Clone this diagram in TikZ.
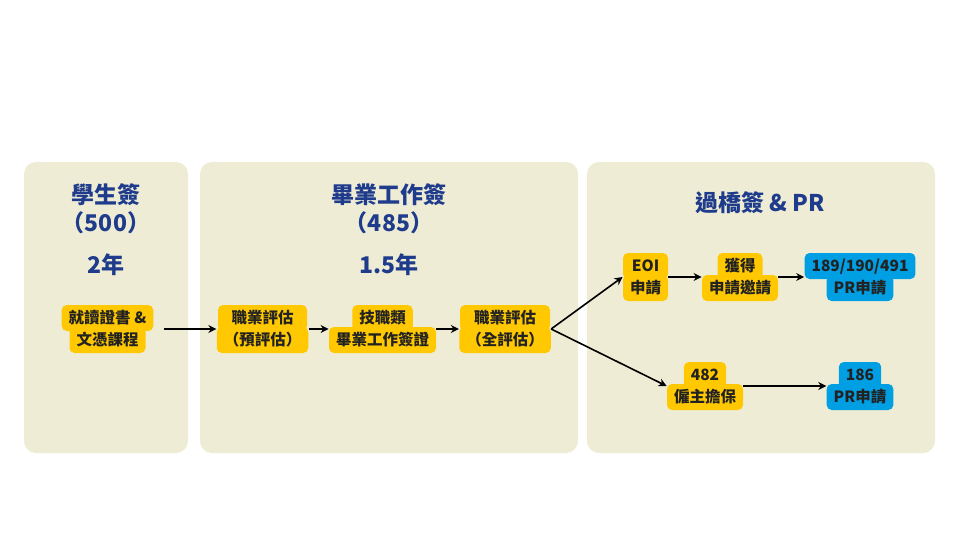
\documentclass[tikz,border=0pt]{standalone}
\usepackage{fontspec}
\setmainfont{Noto Sans CJK TC}
\usetikzlibrary{fit,arrows.meta}
\definecolor{panelbg}{HTML}{EFECD5}
\definecolor{titleblue}{HTML}{1F3C8C}
\definecolor{tagyellow}{HTML}{FFC800}
\definecolor{tagblue}{HTML}{009FE3}
\definecolor{tagtext}{HTML}{222222}
\tikzset{
  panel/.style={fill=panelbg, draw=none, rounded corners=12pt},
  titletext/.style={text=titleblue, font=\fontsize{23pt}{27pt}\selectfont\bfseries, inner sep=0pt},
  lab/.style={draw=none, rounded corners=5pt, text=tagtext,
    font=\fontsize{15.5pt}{18pt}\selectfont\bfseries,
    inner xsep=7pt, inner ysep=0pt, minimum height=26pt, text height=13pt, text depth=2pt},
  arr/.style={draw=black, line width=1.6pt, -{Stealth[length=8pt,width=8pt]}},
}
\newcommand\twoline[7]{%
  \node[lab, fill=#6, #7] (#1a) at (#2,#3-11) {#4};
  \node[lab, fill=#6, #7] (#1b) at (#2,#3+11) {#5};
  \node[fit=(#1a)(#1b), inner sep=0pt, draw=none] (#1) {};
}
\begin{document}
\begin{tikzpicture}[x=1pt,y=-1pt]
\useasboundingbox (0,0) rectangle (960,540);
\fill[white] (0,0) rectangle (960,540);
% panels
\node[panel, minimum width=164pt, minimum height=291pt] (p1) at (106,307.5) {};
\node[panel, minimum width=378pt, minimum height=291pt] (p2) at (389,307.5) {};
\node[panel, minimum width=348pt, minimum height=291pt] (p3) at (761,307.5) {};
% titles
\node[titletext] (t1a) at (106,195) {學生簽};
\node[titletext] (t1b) at (106,223) {（500）};
\node[titletext] (t1c) at (106,265) {2年};
\node[titletext] (t2a) at (389,195) {畢業工作簽};
\node[titletext] (t2b) at (389,223) {（485）};
\node[titletext] (t2c) at (389,265) {1.5年};
\node[titletext] (t3a) at (760,203) {過橋簽 \& PR};
% tags
\twoline{sa}{107.5}{329}{就讀證書 \&}{文憑課程}{tagyellow}{}
\twoline{pre}{262.5}{329}{職業評估}{（預評估）}{tagyellow}{minimum width=89pt}
\twoline{tech}{382.5}{329}{技職類}{畢業工作簽證}{tagyellow}{}
\twoline{full}{505}{329}{職業評估}{（全評估）}{tagyellow}{minimum width=90pt}
\twoline{eoi}{645.5}{277}{EOI}{申請}{tagyellow}{minimum width=45pt}
\twoline{inv}{740}{277}{獲得}{申請邀請}{tagyellow}{}
\twoline{pra}{860}{277}{189/190/491}{PR申請}{tagblue}{}
\twoline{emp}{705}{386}{482}{僱主擔保}{tagyellow}{}
\twoline{prb}{860}{386}{186}{PR申請}{tagblue}{}
% arrows
\draw[arr, shorten <=10pt] (sa) -- (pre);
\draw[arr] (pre) -- (tech);
\draw[arr] (tech) -- (full);
\draw[arr] (full.east) -- (eoi.west);
\draw[arr] (full.east) -- (emp.west);
\draw[arr] (eoi) -- (inv);
\draw[arr] (inv) -- (pra);
\draw[arr] (emp) -- (prb);
\end{tikzpicture}
\end{document}
